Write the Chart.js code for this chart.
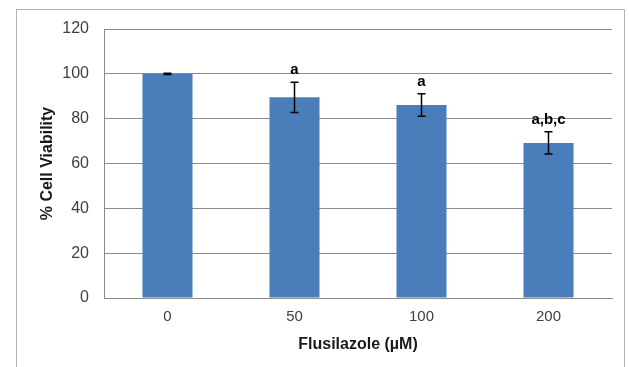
<!DOCTYPE html>
<html>
<head>
<meta charset="utf-8">
<script src="https://cdn.jsdelivr.net/npm/chart.js@4"></script>
<style>
  html, body { margin: 0; padding: 0; background: #fff; overflow: hidden; }
  #wrap { position: relative; width: 629px; height: 367px; }
  #frame { position: absolute; left: 16px; top: 9px; width: 609px; height: 400px; border: 1px solid #b4b4b4; box-sizing: border-box; }
  canvas { position: absolute; left: 0; top: 0; }
</style>
</head>
<body>
<div id="wrap">
  <div id="frame"></div>
  <canvas id="viability-chart" width="629" height="367"></canvas>
</div>
<script>
// dosis flusilazole (sumbu x)
const doses = ["0", "50", "100", "200"];
// rata-rata viabilitas sel (%)
const viability = [100, 89.5, 86.1, 69.2];
// simpangan (error bar)
const errors = [0.25, 6.8, 5.0, 5.0];
// huruf signifikansi di atas batang
const letters = ["", "a", "a", "a,b,c"];
// tick sumbu y
const yMin = 0, yMax = 120, yStep = 20;

const errorBars = {
  id: "errorBars",
  afterDatasetsDraw(chart) {
    const ctx = chart.ctx;
    const y = chart.scales.y;
    const meta = chart.getDatasetMeta(0);
    ctx.save();
    ctx.strokeStyle = "#000";
    ctx.lineWidth = 1.5;
    meta.data.forEach((bar, i) => {
      const top = y.getPixelForValue(viability[i] + errors[i]);
      const bot = y.getPixelForValue(viability[i] - errors[i]);
      const x = bar.x;
      ctx.beginPath();
      ctx.moveTo(x, top); ctx.lineTo(x, bot);
      ctx.moveTo(x - 4, top); ctx.lineTo(x + 4, top);
      ctx.moveTo(x - 4, bot); ctx.lineTo(x + 4, bot);
      ctx.stroke();
      if (letters[i]) {
        ctx.fillStyle = "#000";
        ctx.font = "bold 15px 'Liberation Sans', Arial, sans-serif";
        ctx.textAlign = "center";
        ctx.textBaseline = "middle";
        ctx.fillText(letters[i], x, top - 12);
      }
    });
    ctx.restore();
  }
};

var el = document.getElementById("viability-chart");

new Chart(el, {
  type: "bar",
  data: {
    labels: doses,
    datasets: [{
      label: "% Cell Viability",
      data: viability,
      backgroundColor: "#4A7EBB",
      borderWidth: 0,
      categoryPercentage: 1,
      barPercentage: 0.394
    }]
  },
  options: {
    responsive: false,
    animation: false,
    layout: { padding: { left: 30, right: 17, top: 29, bottom: 8 } },
    plugins: {
      legend: { display: false },
      tooltip: { enabled: false }
    },
    scales: {
      x: {
        grid: { display: false, drawTicks: false },
        border: { display: true, color: "#8c8c8c", width: 1 },
        ticks: {
          color: "#404040",
          padding: 10,
          font: { family: "'Liberation Sans', Arial, sans-serif", size: 15 }
        },
        title: {
          display: true,
          text: "Flusilazole (µM)",
          color: "#1a1a1a",
          padding: { top: 0, bottom: 5 },
          font: { family: "'Liberation Sans', Arial, sans-serif", size: 16, weight: "bold" }
        },
        afterFit(scale) { scale.height = 61; }
      },
      y: {
        min: yMin,
        max: yMax,
        grid: { color: "#8c8c8c", lineWidth: 1, drawTicks: false },
        border: { display: true, color: "#8c8c8c", width: 1 },
        ticks: {
          stepSize: yStep,
          color: "#404040",
          padding: 15,
          font: { family: "'Liberation Sans', Arial, sans-serif", size: 16 }
        },
        title: {
          display: true,
          text: "% Cell Viability",
          color: "#1a1a1a",
          padding: { top: 8, bottom: 0 },
          font: { family: "'Liberation Sans', Arial, sans-serif", size: 16, weight: "bold" }
        },
        afterFit(scale) { scale.width = 74; }
      }
    }
  },
  plugins: [errorBars]
});
</script>
</body>
</html>
